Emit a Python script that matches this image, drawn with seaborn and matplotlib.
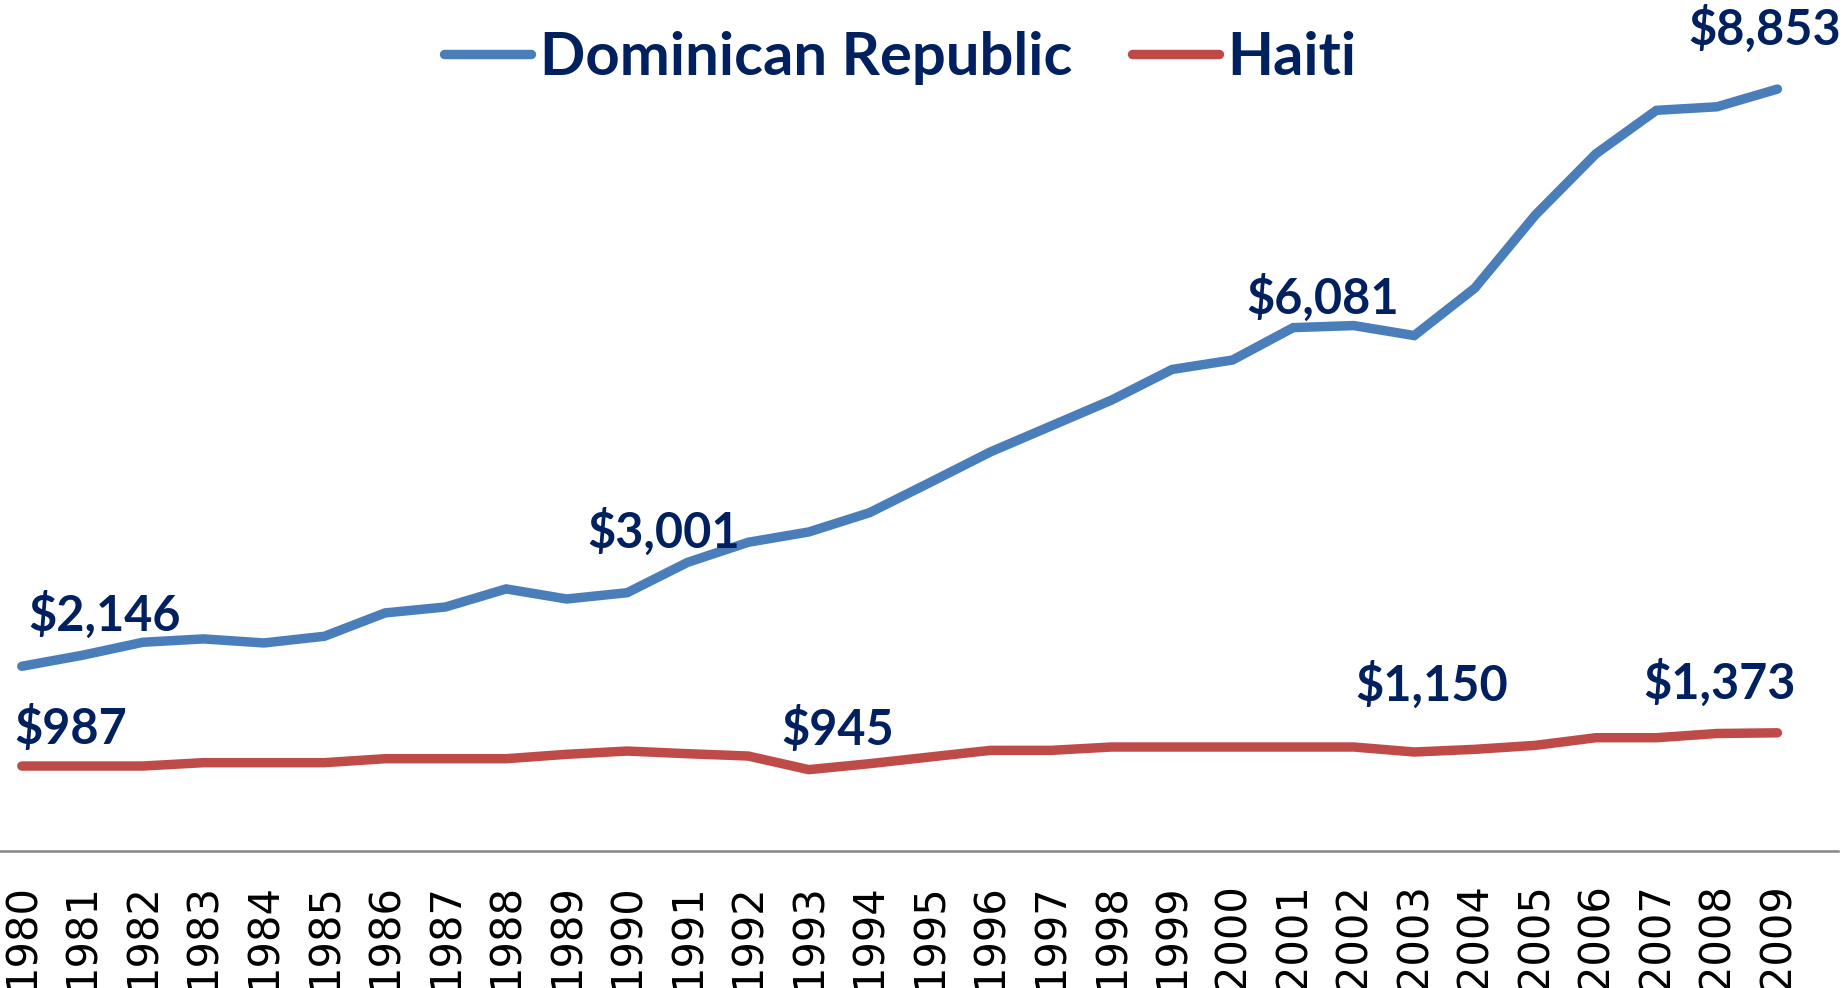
import pandas as pd
import matplotlib.pyplot as plt
import seaborn as sns

# GDP per capita (PPP, US$)
years = list(range(1980, 2010))
dominican = [2146, 2274, 2425, 2464, 2417, 2495, 2766, 2835, 3045, 2928,
             3001, 3354, 3587, 3707, 3930, 4281, 4637, 4938, 5239, 5595,
             5705, 6081, 6105, 5989, 6540, 7389, 8100, 8606, 8647, 8853]
haiti = [987, 987, 987, 1026, 1026, 1026, 1072, 1072, 1072, 1123,
         1161, 1130, 1103, 945, 1014, 1092, 1169, 1169, 1208, 1208,
         1208, 1208, 1208, 1150, 1181, 1227, 1316, 1316, 1365, 1373]
series_names = ["Dominican Republic", "Haiti"]
label_years = {"Dominican Republic": [1980, 1990, 2001, 2009],
               "Haiti": [1980, 1993, 2003, 2009]}

df = pd.DataFrame({"year": years * 2,
                   "value": dominican + haiti,
                   "country": [series_names[0]] * len(years) + [series_names[1]] * len(years)})

sns.set_theme(style="white")
plt.rcParams['font.family'] = ['DejaVu Sans']

navy = "#002060"
palette = {"Dominican Republic": "#4A7EBB", "Haiti": "#BE4B48"}

fig = plt.figure(figsize=(18.47, 9.88), dpi=100)
ax = fig.add_axes([0, 0.1387, 1838 / 1847, 0.8275])

sns.lineplot(data=df, x="year", y="value", hue="country", palette=palette,
             linewidth=6.8, ax=ax, legend=True)
for line in ax.lines:
    line.set_solid_capstyle("round")
    line.set_solid_joinstyle("miter")

ax.set_xlim(1979.64, 2010.0)
ax.set_ylim(0, 9500)
ax.set_xticks(years)
ax.set_xticklabels([str(y) for y in years], rotation=90, fontsize=30,
                   family="DejaVu Sans", color="black")
ax.tick_params(axis="x", length=0, pad=23)
ax.set_yticks([])
ax.set_xlabel("")
ax.set_ylabel("")
for side in ["top", "left", "right"]:
    ax.spines[side].set_visible(False)
ax.spines["bottom"].set_color("#868686")
ax.spines["bottom"].set_linewidth(1.8)

# data labels (offsets in pixels from the point)
offsets = {("Dominican Republic", 1980): (83, 52),
           ("Dominican Republic", 1990): (36, 61),
           ("Dominican Republic", 2001): (30, 30),
           ("Dominican Republic", 2009): (-13, 60),
           ("Haiti", 1980): (49, 38),
           ("Haiti", 1993): (29, 40),
           ("Haiti", 2003): (17, 67),
           ("Haiti", 2009): (-58, 50)}
values = {"Dominican Republic": dominican, "Haiti": haiti}
for name in series_names:
    for yr in label_years[name]:
        v = values[name][years.index(yr)]
        ax.annotate(f"${v:,}", xy=(yr, v), xytext=offsets[(name, yr)],
                    textcoords="offset pixels", ha="center", va="center",
                    fontsize=35, fontweight="bold", family=["Lato", "DejaVu Sans"],
                    color=navy, annotation_clip=False)

leg = ax.legend(loc="center", bbox_to_anchor=(0.49, 0.97), ncol=2, frameon=False,
                handlelength=1.45, handletextpad=0.15, columnspacing=1.0,
                prop={"family": ["Lato", "DejaVu Sans"], "weight": "bold", "size": 43})
for t in leg.get_texts():
    t.set_color(navy)
for h in leg.get_lines():
    h.set_linewidth(6.8)
    h.set_solid_capstyle("round")

fig.savefig("out.png", dpi=100)
